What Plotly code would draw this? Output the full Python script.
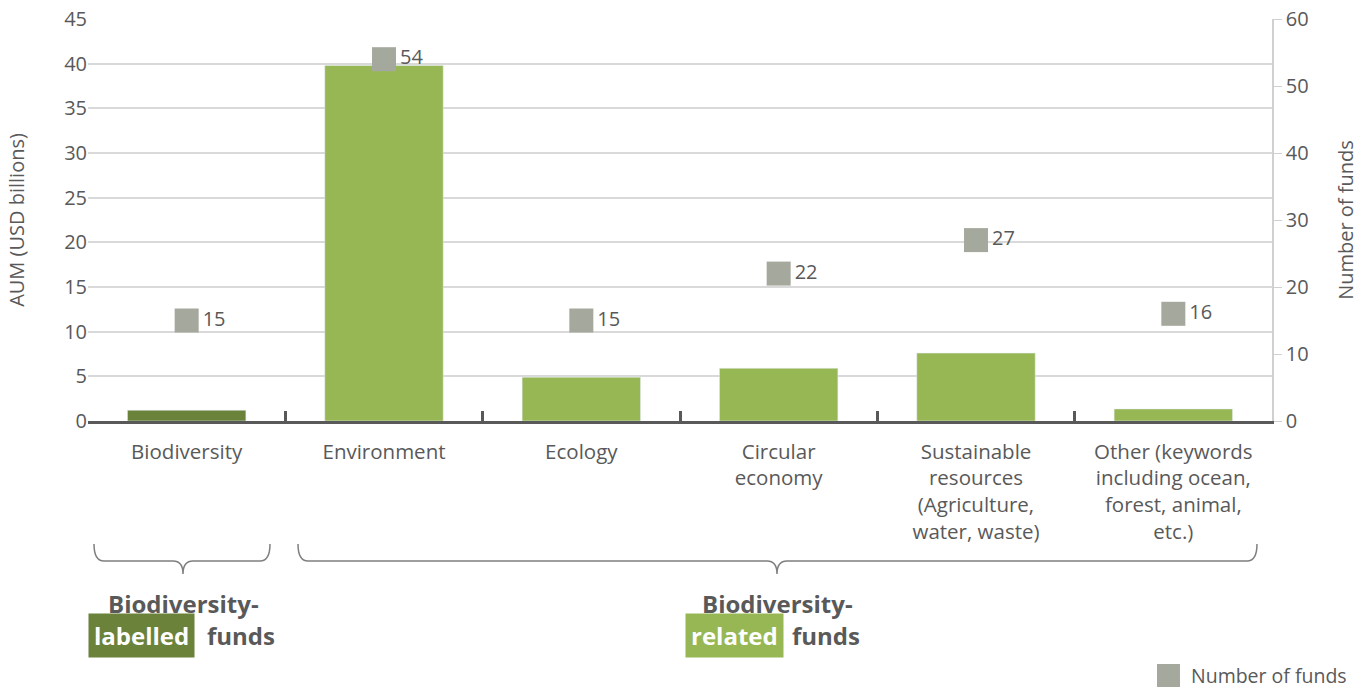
import plotly.graph_objects as go

categories = ["Biodiversity", "Environment", "Ecology", "Circular economy",
              "Sustainable resources (Agriculture, water, waste)",
              "Other (keywords including ocean, forest, animal, etc.)"]
tick_labels = ["Biodiversity", "Environment", "Ecology", "Circular<br>economy",
               "Sustainable<br>resources<br>(Agriculture,<br>water, waste)",
               "Other (keywords<br>including ocean,<br>forest, animal,<br>etc.)"]
aum_values = [1.2, 39.8, 4.9, 5.9, 7.6, 1.35]
fund_counts = [15, 54, 15, 22, 27, 16]
bar_colors = ["#6b823a", "#97b754", "#97b754", "#97b754", "#97b754", "#97b754"]

W, H = 1370, 689
L, R, T, B = 88, 1272, 19, 421
FONT = "Open Sans"
GRAY = "#595959"
MARKER_GRAY = "#a5a89c"


def px(x):
    return (x - L) / (R - L)


def py(y):
    return (B - y) / (B - T)


fig = go.Figure()
fig.add_trace(go.Bar(x=categories, y=aum_values, marker_color=bar_colors,
                     showlegend=False, name="AUM"))
fig.add_trace(go.Scatter(x=categories, y=fund_counts, yaxis="y2", mode="markers+text",
                         name="Number of funds", showlegend=False,
                         marker=dict(symbol="square", size=24, color=MARKER_GRAY),
                         text=[str(v) for v in fund_counts], textposition="middle right",
                         textfont=dict(size=20, color=GRAY, family=FONT)))


def brace(x0, x1, c, ytop=544, ymid=561, ytip=574, r=10):
    pts = [
        f"M {px(x0)},{py(ytop)}",
        f"Q {px(x0)},{py(ymid)} {px(x0 + r)},{py(ymid)}",
        f"L {px(c - r)},{py(ymid)}",
        f"Q {px(c)},{py(ymid)} {px(c)},{py(ytip)}",
        f"Q {px(c)},{py(ymid)} {px(c + r)},{py(ymid)}",
        f"L {px(x1 - r)},{py(ymid)}",
        f"Q {px(x1)},{py(ymid)} {px(x1)},{py(ytop)}",
    ]
    return dict(type="path", xref="paper", yref="paper", path=" ".join(pts),
                line=dict(color="#7f7f7f", width=1.5))


shapes = [brace(94, 270, 183), brace(298, 1257, 777)]
# legend swatch
shapes.append(dict(type="rect", xref="paper", yref="paper",
                   x0=px(1157), x1=px(1180), y0=py(664), y1=py(687),
                   fillcolor=MARKER_GRAY, line=dict(width=0)))

annotations = []


def ann(text, x, y, color=GRAY, bg=None, size=24, bold=True, xanchor="center", pad=1):
    a = dict(text=f"<b>{text}</b>" if bold else text, x=px(x), y=py(y),
             xref="paper", yref="paper",
             showarrow=False, xanchor=xanchor, yanchor="middle", borderpad=pad,
             font=dict(size=size, color=color, family=FONT))
    if bg:
        a.update(bgcolor=bg, borderpad=5)
    annotations.append(a)


ann("Biodiversity-", 183, 603)
ann("labelled", 141, 635, color="white", bg="#6b823a")
ann("funds", 241, 635)
ann("Biodiversity-", 777, 603)
ann("related", 734, 635, color="white", bg="#97b754")
ann("funds", 826, 635)
ann("Number of funds", 1190, 675, size=19.5, bold=False, xanchor="left", pad=0)

fig.update_layout(
    width=W, height=H,
    margin=dict(l=L, r=W - R, t=T, b=H - B),
    plot_bgcolor="white", paper_bgcolor="white",
    font=dict(family=FONT, color=GRAY, size=20),
    bargap=0.4,
    showlegend=False,
    xaxis=dict(tickmode="array", tickvals=categories, ticktext=tick_labels,
               tickson="boundaries", ticks="inside", ticklen=10, tickwidth=3,
               tickcolor=GRAY, showline=True, linecolor=GRAY, linewidth=3,
               tickfont=dict(size=20.5, color=GRAY), ticklabelstandoff=10,
               showgrid=False, automargin=False),
    yaxis=dict(range=[0, 45], dtick=5, showgrid=True, gridcolor="#d9d9d9", gridwidth=1.5,
               zeroline=False, showline=False, ticks="", tickfont=dict(size=20, color=GRAY),
               automargin=False,
               title=dict(text="AUM (USD billions)", font=dict(size=20, color=GRAY), standoff=34)),
    yaxis2=dict(range=[0, 60], dtick=10, overlaying="y", side="right", showgrid=False,
                zeroline=False, showline=True, linecolor="#d0d0d0", linewidth=1.5,
                ticks="outside", ticklen=8, tickcolor="#d0d0d0", tickwidth=1,
                tickfont=dict(size=20, color=GRAY), automargin=False,
                title=dict(text="Number of funds", font=dict(size=20, color=GRAY), standoff=31)),
    shapes=shapes,
    annotations=annotations,
)

fig.write_html("out.html")
